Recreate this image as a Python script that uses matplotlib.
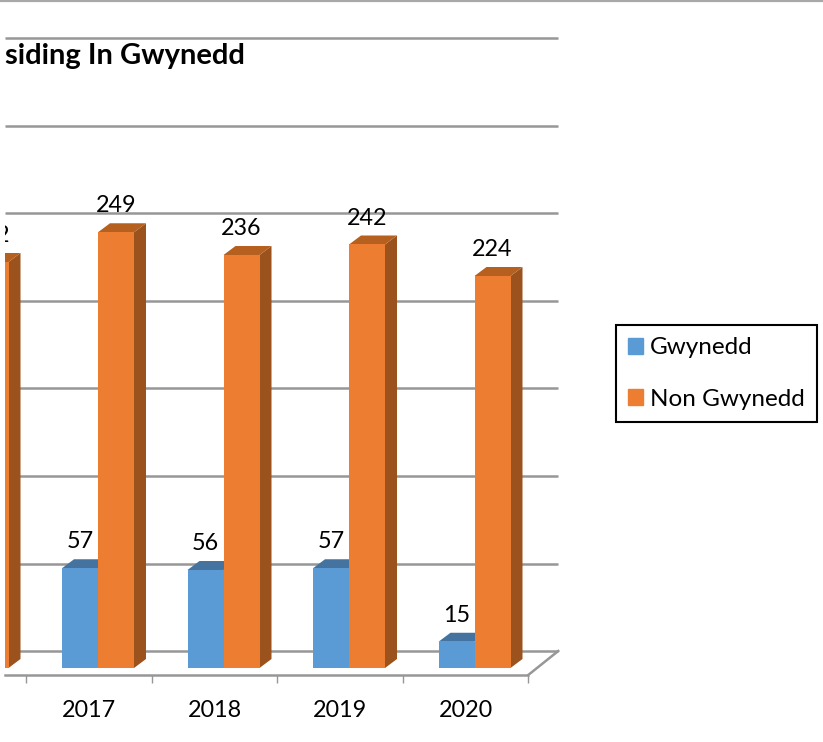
import numpy as np
import matplotlib
matplotlib.use('Agg')
from matplotlib import pyplot as plt
from matplotlib.patches import Patch

years = [2016, 2017, 2018, 2019, 2020]
gwynedd = [np.nan, 57, 56, 57, 15]   # 2016 is cut off in the picture
non_gwynedd = [232, 249, 236, 242, 224]
grid_values = [0, 50, 100, 150, 200, 250, 300, 350]
year_labels = ['2017', '2018', '2019', '2020']

W, H = 823, 742
PX_X = 125.5   # pixels per category
PX_Y = 1.75    # pixels per value unit

plt.rcParams['font.family'] = ['Lato', 'DejaVu Sans']

blue, blue_top = '#5b9bd5', '#44739f'
orange, orange_top, orange_side = '#ed7d31', '#b5601f', '#9c521d'
grid_col = '#979797'

fig = plt.figure(figsize=(W / 100, H / 100), dpi=100)
left, right, top, bottom = 5, 560, 2, 675
ax = fig.add_axes([left / W, 1 - bottom / H, (right - left) / W, (bottom - top) / H])
ax.set_xlim(2017 - 84 / PX_X, 2017 + 471 / PX_X)
ax.set_ylim(-7 / PX_Y, 666 / PX_Y)

bar_w = 36 / PX_X
shift = 9 / PX_X
dx, dy = 12 / PX_X, 9 / PX_Y
back_y = 17 / PX_Y      # back wall sits above the bar base
floor_dx = 30 / PX_X
grid_end = 2020.5 + floor_dx


def bar3d(x, v, col, col_top, col_side=None):
    x0, x1 = x - bar_w / 2, x + bar_w / 2
    if col_side is not None:
        ax.fill([x1, x1 + dx, x1 + dx, x1], [0, dy, v + dy, v], color=col_side, lw=0, zorder=3)
    ax.fill([x0, x1, x1 + dx, x0 + dx], [v, v, v + dy, v + dy], color=col_top, lw=0, zorder=3)
    ax.bar(x, v, bar_w, color=col, zorder=3)
    ax.text(x, v + 15, f'{v:.0f}', ha='center', va='center', fontsize=16.8, clip_on=True, zorder=4)


ax.hlines([g + back_y for g in grid_values], ax.get_xlim()[0], grid_end, color=grid_col, lw=1.8, zorder=1)
ax.plot([2020.5, grid_end], [ax.get_ylim()[0], back_y], color=grid_col, lw=1.8, zorder=1)

for i, yr in enumerate(years):
    if not np.isnan(gwynedd[i]):
        bar3d(yr + shift - bar_w / 2, gwynedd[i], blue, blue_top)
    bar3d(yr + shift + bar_w / 2, non_gwynedd[i], orange, orange_top, orange_side)

for s in ['top', 'left', 'right']:
    ax.spines[s].set_visible(False)
ax.spines['bottom'].set_color(grid_col)
ax.spines['bottom'].set_linewidth(1.8)
ax.spines['bottom'].set_bounds(ax.get_xlim()[0], 2020.5)
ax.patch.set_alpha(0)
ax.set_yticks([])
ax.set_xticks([2016.5, 2017.5, 2018.5, 2019.5, 2020.5])
ax.set_xticklabels([])
ax.tick_params(axis='x', which='major', length=5.5, width=1, color=grid_col)
ax.set_xticks([2017, 2018, 2019, 2020], minor=True)
ax.set_xticklabels(year_labels, minor=True, fontsize=16.8)
ax.tick_params(axis='x', which='minor', length=0, pad=18)

fig.text(left / W, 1 - 56 / H, 'siding In Gwynedd', ha='left', va='center', fontsize=21, fontweight='bold')

# line along the very top of the picture
fig.add_artist(plt.Line2D([0, 1], [1 - 1 / H, 1 - 1 / H], color='#a8a8a8', lw=1.6))

handles = [Patch(color=blue, label='Gwynedd'), Patch(color=orange, label='Non Gwynedd')]
leg = fig.legend(handles=handles, loc='center', bbox_to_anchor=(716.5 / W, 1 - 373.5 / H), fontsize=17.5,
                 frameon=True, fancybox=False, edgecolor='black', framealpha=1,
                 handlelength=0.62, handleheight=0.62, handletextpad=0.3, labelspacing=1.24,
                 borderpad=0.5, borderaxespad=0)
leg.get_frame().set_linewidth(1.5)

fig.savefig('out.png', dpi=100)
